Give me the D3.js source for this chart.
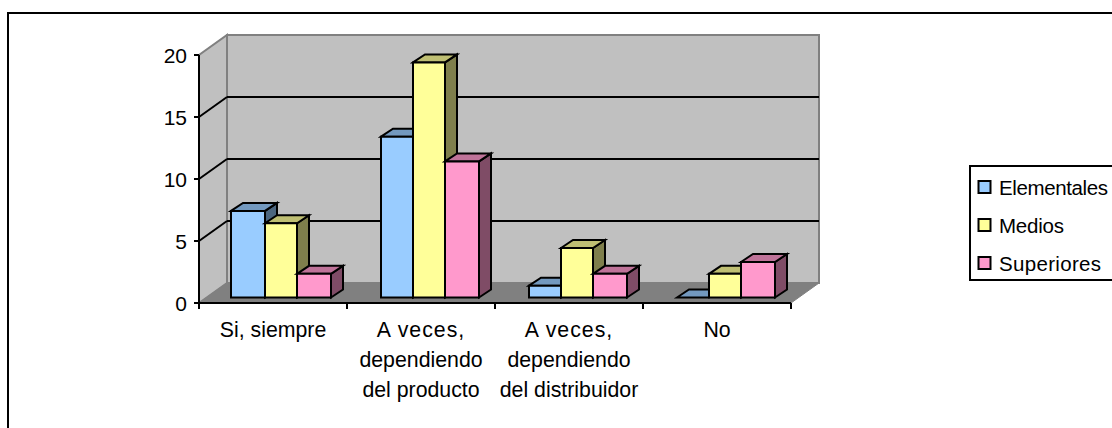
<!DOCTYPE html>
<html><head><meta charset="utf-8">
<script src="https://cdn.jsdelivr.net/npm/d3@7"></script>
<style>html,body{margin:0;padding:0;background:#fff}svg{display:block}text{font-family:"Liberation Sans",Arial,sans-serif;fill:#000}</style>
</head><body><svg id="c" width="1112" height="428"></svg>
<script>
const categories = [["Si, siempre"],["A veces,","dependiendo","del producto"],["A veces,","dependiendo","del distribuidor"],["No"]];
const seriesNames = ["Elementales","Medios","Superiores"];
const elementales = [7,13,1,0];
const medios = [6,19,4,2];
const superiores = [2,11,2,3];
const yTicks = [0,5,10,15,20];
const fills = ["#99CCFF","#FFFF99","#FF99CC"];
const tops = ["#7399BF","#BFBF73","#BF7399"];
const sides = ["#4C667F","#7F7F4C","#7F4C66"];
const values = [elementales,medios,superiores];

const svg = d3.select("#c");
const dx = 28, dy = -20, bdx = 12, bdy = -8;
const x = d3.scaleBand().domain(d3.range(categories.length)).range([199,791]);
const y = d3.scaleLinear().domain([0,20]).range([303,55]);
// bar heights in the reference snap unevenly to pixels below 4 units
const barY = d3.scaleLinear().domain([0,3,4,20]).range([297.5,262,248,50]);
const poly = (pts,f,s,w) => svg.append("polygon").attr("points",pts.map(p=>p.join(",")).join(" ")).attr("fill",f).attr("stroke",s||"none").attr("stroke-width",w||0).attr("stroke-linejoin","miter");
const line = (a,b,c,w) => svg.append("line").attr("x1",a[0]).attr("y1",a[1]).attr("x2",b[0]).attr("y2",b[1]).attr("stroke",c).attr("stroke-width",w);

// frame
svg.append("rect").attr("x",8).attr("y",13).attr("width",1200).attr("height",600).attr("fill","#fff").attr("stroke","#000").attr("stroke-width",2);

// walls and floor
const [x0,x1] = x.range();
poly([[x0,y(0)],[x0+dx,y(0)+dy],[x0+dx,y(20)+dy],[x0,y(20)]],"#C0C0C0","#808080",2);
poly([[x0+dx,y(0)+dy],[x1+dx,y(0)+dy],[x1+dx,y(20)+dy],[x0+dx,y(20)+dy]],"#C0C0C0","#808080",2);
poly([[x0,y(0)],[x1,y(0)],[x1+dx,y(0)+dy],[x0+dx,y(0)+dy]],"#808080","#808080",1);

// gridlines
yTicks.filter(t=>t>0&&t<20).forEach(t=>{
  line([x0,y(t)],[x0+dx,y(t)+dy],"#000",2);
  line([x0+dx,y(t)+dy],[x1+dx,y(t)+dy],"#000",2);
});

// bars
const barW = [32,32,34];
const barOff = [34,66,98];
function bar(i,s){
  const v = values[s][i];
  let l = x(i)+barOff[s], w = barW[s];
  if(i===0&&s===0){l-=2;w+=2;}
  const b = barY(0), t = barY(v);
  poly([[l+w,b],[l+w+bdx,b+bdy],[l+w+bdx,t+bdy],[l+w,t]],sides[s],"#000",2);
  poly([[l,t],[l+bdx,t+bdy],[l+w+bdx,t+bdy],[l+w,t]],tops[s],"#000",2);
  if(v>0) poly([[l,b],[l+w,b],[l+w,t],[l,t]],fills[s],"#000",2);
}
d3.range(categories.length).forEach(i=>{ [0,1,2].forEach(s=>bar(i,s)); });

// axes
line([x0,y(20)],[x0,y(0)],"#000",2);
line([x0,y(0)],[x1,y(0)],"#000",2);
yTicks.forEach(t=>{
  line([x0-5,y(t)],[x0,y(t)],"#000",2);
  svg.append("text").attr("x",187).attr("y",y(t)+8).attr("text-anchor","end").attr("font-size",21).text(t);
});
[...x.domain(),categories.length].forEach(i=>{
  const px = i<categories.length?x(i):x1;
  line([px,y(0)],[px,y(0)+6],"#000",2);
});
categories.forEach((c,i)=>{
  c.forEach((t,k)=>{
    svg.append("text").attr("x",x(i)+x.bandwidth()/2).attr("y",337+k*30).attr("text-anchor","middle").attr("font-size",21.3).attr("letter-spacing",t==="A veces,"?1:0).text(t);
  });
});

// legend
svg.append("rect").attr("x",970).attr("y",166).attr("width",300).attr("height",114).attr("fill","#fff").attr("stroke","#000").attr("stroke-width",2);
const legY = d3.scalePoint().domain(seriesNames).range([187,263]);
const legendWidths = [109,65,102];
seriesNames.forEach((n,s)=>{
  svg.append("rect").attr("x",978.5).attr("y",legY(n)-6).attr("width",12).attr("height",12).attr("fill",fills[s]).attr("stroke","#000").attr("stroke-width",2);
  svg.append("text").attr("x",999).attr("y",legY(n)+7.5).attr("font-size",20.5).attr("textLength",legendWidths[s]).attr("lengthAdjust","spacing").text(n);
});
</script></body></html>
